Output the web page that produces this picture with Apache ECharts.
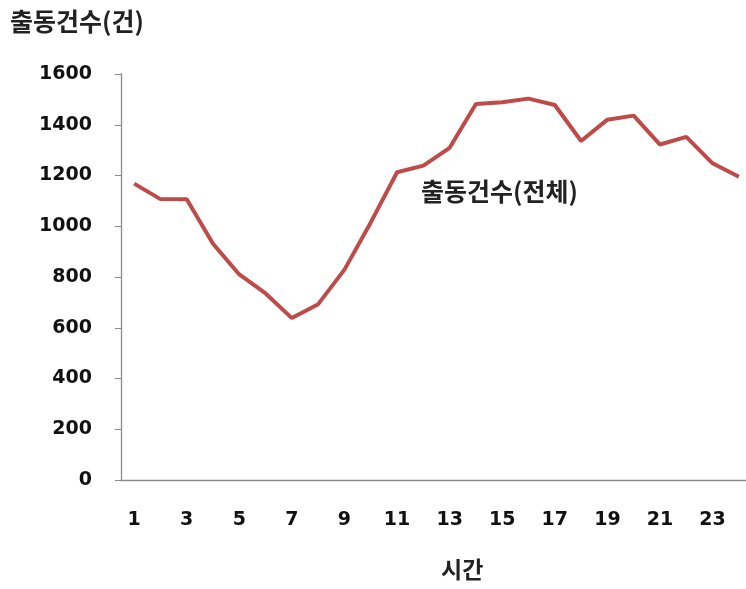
<!DOCTYPE html>
<html>
<head>
<meta charset="utf-8">
<script src="https://cdn.jsdelivr.net/npm/echarts@6/dist/echarts.min.js"></script>
<style>
html, body { margin: 0; padding: 0; background: #fff; }
#chart { width: 746px; height: 589px; }
</style>
</head>
<body>
<div id="chart"></div>
<script>
// Hourly dispatch counts
const hours = ['1','2','3','4','5','6','7','8','9','10','11','12','13','14','15','16','17','18','19','20','21','22','23','24'];
const dispatchTotal = [1168, 1107, 1106, 931, 810, 735, 638, 693, 829, 1015, 1213, 1239, 1309, 1482, 1489, 1503, 1478, 1336, 1420, 1436, 1322, 1352, 1248, 1195];
const seriesName = '출동건수(전체)';
const yTitle = '출동건수(건)';
const xTitle = '시간';

const chart = echarts.init(document.getElementById('chart'));
const cjk = '"Noto Sans CJK KR", "Noto Sans", sans-serif';
const num = '"DejaVu Sans", Verdana, sans-serif';

chart.setOption({
  animation: false,
  // the last hour band runs slightly past the right edge of the canvas
  grid: { left: 121, top: 74, bottom: 109, width: 631, containLabel: false, outerBoundsMode: 'none' },
  xAxis: {
    type: 'category',
    data: hours,
    boundaryGap: true,
    axisLine: { lineStyle: { color: '#8a8a8a', width: 1.3 } },
    axisTick: { interval: 0, length: 6, lineStyle: { color: '#8a8a8a' } },
    axisLabel: { interval: 1, margin: 31, color: '#111', fontFamily: num, fontWeight: 'bold', fontSize: 19 }
  },
  yAxis: {
    type: 'value',
    min: 0, max: 1600, interval: 200,
    axisLine: { show: true, lineStyle: { color: '#8a8a8a', width: 1.3 } },
    axisTick: { show: true, length: 6, lineStyle: { color: '#8a8a8a' } },
    splitLine: { show: false },
    axisLabel: {
      margin: 29, color: '#111', fontFamily: num, fontWeight: 'bold', fontSize: 19,
      formatter: function (v) { return String(v); }
    }
  },
  series: [{
    name: seriesName,
    type: 'line',
    data: dispatchTotal,
    symbol: 'none',
    lineStyle: { color: '#BE4B48', width: 4 },
    z: 3
  }],
  graphic: [
    { type: 'text', left: 10, top: 9, style: { text: yTitle, font: 'bold 25px ' + cjk, fill: '#222' } },
    { type: 'text', left: 441, top: 558, style: { text: xTitle, font: 'bold 23px ' + cjk, fill: '#222' } },
    { type: 'text', left: 421, top: 179, style: { text: seriesName, font: 'bold 25px ' + cjk, fill: '#222' } }
  ]
});
</script>
</body>
</html>
